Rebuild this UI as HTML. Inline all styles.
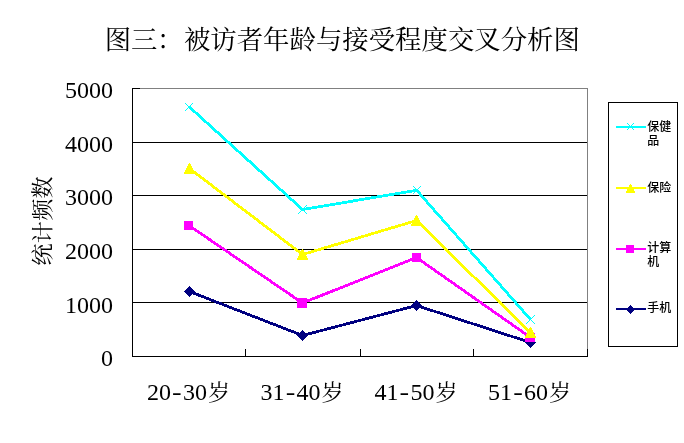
<!DOCTYPE html>
<html lang="zh">
<head>
<meta charset="utf-8">
<title>图三：被访者年龄与接受程度交叉分析图</title>
<style>
html,body{margin:0;padding:0;background:#fff;}
body{width:684px;height:443px;overflow:hidden;}
svg{display:block;will-change:transform;}
.t{font-family:"Liberation Serif","Noto Serif CJK SC",serif;fill:#000;}
.l{font-family:"Liberation Sans","Noto Sans CJK SC",sans-serif;fill:#000;font-size:12px;font-weight:500;}
</style>
</head>
<body>
<svg width="684" height="443" viewBox="0 0 684 443">
<rect x="0" y="0" width="684" height="443" fill="#fff"/>

<!-- title -->
<text class="t" y="48.5" font-size="26.4" x="104.7 131.1 156.9 183.9 210.3 236.7 263.1 289.5 315.9 342.3 368.7 395.1 421.5 447.9 474.3 500.7 527.1 553.5">图三：被访者年龄与接受程度交叉分析图</text>

<!-- plot area -->
<g shape-rendering="crispEdges">
  <!-- gray border top/right -->
  <rect x="132" y="88" width="456" height="1" fill="#808080"/>
  <rect x="587" y="88" width="1" height="269" fill="#808080"/>
  <!-- gridlines -->
  <rect x="132" y="142" width="455" height="1" fill="#000"/>
  <rect x="132" y="195" width="455" height="1" fill="#000"/>
  <rect x="132" y="249" width="455" height="1" fill="#000"/>
  <rect x="132" y="302" width="455" height="1" fill="#000"/>
  <!-- axes -->
  <rect x="132" y="88" width="1" height="269" fill="#000"/>
  <rect x="132" y="356" width="456" height="1" fill="#000"/>
  <!-- ticks -->
  <rect x="132" y="88" width="8" height="1" fill="#000"/>
  <rect x="245" y="349" width="1" height="8" fill="#000"/>
  <rect x="360" y="349" width="1" height="8" fill="#000"/>
  <rect x="473" y="349" width="1" height="8" fill="#000"/>
  <rect x="587" y="349" width="1" height="8" fill="#000"/>
</g>

<!-- series -->
<g shape-rendering="crispEdges" fill="none" stroke-linejoin="miter">
  <!-- navy 手机 -->
  <polyline points="189.5,291.5 302.5,335.5 416.5,305.5 530.5,342.5" stroke="#000080" stroke-width="2.8"/>
  <g fill="#000080" stroke="none">
    <polygon points="189.5,286.0 195.0,291.5 189.5,297.0 184.0,291.5"/>
    <polygon points="302.5,330.0 308.0,335.5 302.5,341.0 297.0,335.5"/>
    <polygon points="416.5,300.0 422.0,305.5 416.5,311.0 411.0,305.5"/>
    <polygon points="530.5,337.0 536.0,342.5 530.5,348.0 525.0,342.5"/>
  </g>
  <!-- magenta 计算机 -->
  <polyline points="189,225.5 302.5,303 416.5,257.5 530.5,337.5" stroke="#ff00ff" stroke-width="2.8"/>
  <g fill="#ff00ff" stroke="none">
    <rect x="184" y="221" width="9" height="9"/>
    <rect x="297" y="298" width="10" height="10"/>
    <rect x="412" y="253" width="9" height="9"/>
    <rect x="525" y="333" width="10" height="9"/>
  </g>
  <!-- yellow 保险 -->
  <polyline points="189.5,168.5 302.5,254.5 416.5,220.5 530.5,332.5" stroke="#ffff00" stroke-width="2.8"/>
  <g fill="#ffff00" stroke="none">
    <polygon points="189.5,162.5 195.3,174 183.7,174"/>
    <polygon points="302.5,248.5 308.3,260 296.7,260"/>
    <polygon points="416.5,214.5 422.3,226 410.7,226"/>
    <polygon points="530.5,326.5 536.3,338 524.7,338"/>
  </g>
  <!-- cyan 保健品 -->
  <polyline points="189.2,106.8 302.5,209.5 416.7,190.3 530.5,319.5" stroke="#00ffff" stroke-width="2.8"/>
  <g stroke="#00ffff" stroke-width="1">
    <path d="M185,103 L193,111 M193,103 L185,111"/>
    <path d="M298,205 L307,214 M307,205 L298,214"/>
    <path d="M413,186 L421,194 M421,186 L413,194"/>
    <path d="M526,315 L535,324 M535,315 L526,324"/>
  </g>
</g>

<!-- y axis labels -->
<g class="t" font-size="24" text-anchor="end">
  <text x="113" y="98.2">5000</text>
  <text x="113" y="151.6">4000</text>
  <text x="113" y="205.4">3000</text>
  <text x="113" y="258.7">2000</text>
  <text x="113" y="312.8">1000</text>
  <text x="113" y="365.6">0</text>
</g>

<!-- y axis title -->
<text class="t" font-size="22" text-anchor="middle" transform="translate(49.6,221) rotate(-90)" textLength="89" lengthAdjust="spacing">统计频数</text>

<!-- x axis labels -->
<g class="t" font-size="24">
  <text y="400"><tspan x="146.9 158.9">20</tspan><tspan x="172.1" textLength="9.6" lengthAdjust="spacingAndGlyphs">-</tspan><tspan x="182.9 194.9">30</tspan><tspan x="207.9" font-size="22">岁</tspan></text>
  <text y="400"><tspan x="260.6 272.6">31</tspan><tspan x="285.8" textLength="9.6" lengthAdjust="spacingAndGlyphs">-</tspan><tspan x="296.6 308.6">40</tspan><tspan x="321.6" font-size="22">岁</tspan></text>
  <text y="400"><tspan x="374.4 386.4">41</tspan><tspan x="399.6" textLength="9.6" lengthAdjust="spacingAndGlyphs">-</tspan><tspan x="410.4 422.4">50</tspan><tspan x="435.4" font-size="22">岁</tspan></text>
  <text y="400"><tspan x="488.1 500.1">51</tspan><tspan x="513.3" textLength="9.6" lengthAdjust="spacingAndGlyphs">-</tspan><tspan x="524.1 536.1">60</tspan><tspan x="549.1" font-size="22">岁</tspan></text>
</g>

<!-- legend -->
<g shape-rendering="crispEdges">
  <rect x="608.5" y="102.5" width="69" height="244" fill="#fff" stroke="#000" stroke-width="1"/>
  <rect x="616" y="126" width="30" height="2" fill="#00ffff"/>
  <path d="M627,123 L634,130 M634,123 L627,130" stroke="#00ffff" stroke-width="1" fill="none"/>
  <rect x="616" y="187" width="30" height="2" fill="#ffff00"/>
  <polygon points="630.5,183.5 635.3,193 625.7,193" fill="#ffff00"/>
  <rect x="616" y="248" width="30" height="2" fill="#ff00ff"/>
  <rect x="626" y="245" width="8" height="8" fill="#ff00ff"/>
  <rect x="616" y="308" width="30" height="2" fill="#000080"/>
  <polygon points="630.5,304.9 635.1,309.5 630.5,314.1 625.9,309.5" fill="#000080"/>
</g>
<g class="l">
  <text x="647.3" y="131.3">保健</text>
  <text x="647.3" y="144.5">品</text>
  <text x="647.3" y="192.3">保险</text>
  <text x="647.3" y="252.3">计算</text>
  <text x="647.3" y="266">机</text>
  <text x="647.3" y="312.3">手机</text>
</g>
</svg>
</body>
</html>
